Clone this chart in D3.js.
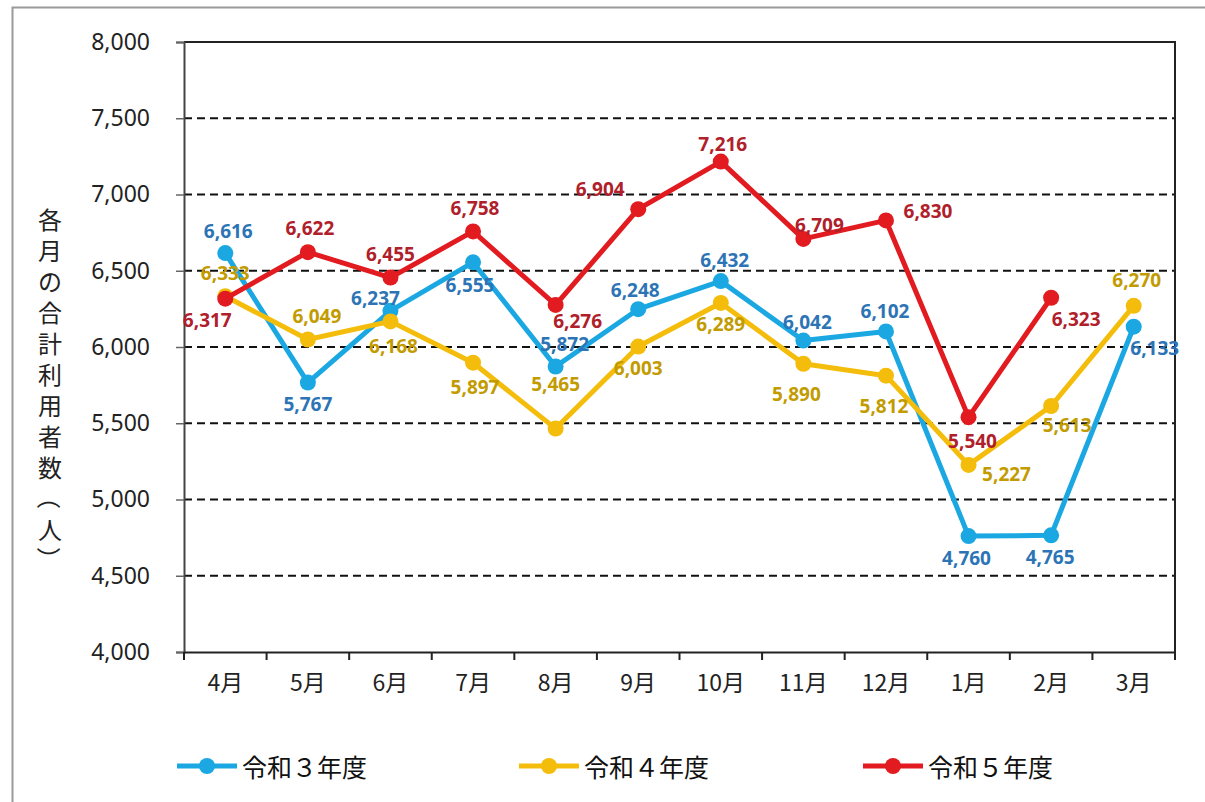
<!DOCTYPE html>
<html>
<head>
<meta charset="utf-8">
<script src="https://cdn.jsdelivr.net/npm/d3@7"></script>
<style>
  body { margin: 0; background: #fff; }
  svg { display: block; }
</style>
</head>
<body>
<div id="chart"></div>
<script>
// months (fiscal year order)
var months = ["4月","5月","6月","7月","8月","9月","10月","11月","12月","1月","2月","3月"];
var yTicks = [4000,4500,5000,5500,6000,6500,7000,7500,8000];

// 各月の合計利用者数
var r3 = [6616,5767,6237,6555,5872,6248,6432,6042,6102,4760,4765,6133];
var r4 = [6333,6049,6168,5897,5465,6003,6289,5890,5812,5227,5613,6270];
var r5 = [6317,6622,6455,6758,6276,6904,7216,6709,6830,5540,6323];

var seriesNames = ["令和３年度","令和４年度","令和５年度"];
var yTitle = "各月の合計利用者数（人）";

// label nudges [dx, dy] relative to each point
var r3Nudge = [[3,-22],[0,21],[-15,-13],[-3,23],[9,-23],[-3,-19],[4,-21],[4,-19],[-1,-20],[-2,22],[-1,22],[21,21]];
var r4Nudge = [[0,-23],[9,-24],[3,25],[2,24],[0,-45],[0,21],[0,21],[-7,30],[-2,30],[38,9],[16,19],[3,-26]];
var r5Nudge = [[-18,21],[2,-24],[0,-24],[2,-23],[22,16],[-38,-20],[2,-18],[16,-14],[42,-9],[4,24],[25,21]];

var W = 1205, H = 802;
var plot = { left: 184, right: 1175, top: 42, bottom: 652 };

var svg = d3.select("#chart").append("svg")
    .attr("width", W)
    .attr("height", H);

// outer frame
svg.append("rect")
    .attr("x", 12.5).attr("y", 7.5)
    .attr("width", W + 20).attr("height", H + 20)
    .attr("fill", "none")
    .attr("stroke", "#9a9a9a")
    .attr("stroke-width", 2);

var x = d3.scaleBand()
    .domain(months)
    .range([plot.left, plot.right]);

var y = d3.scaleLinear()
    .domain([4000, 8000])
    .range([plot.bottom, plot.top]);

// dashed grid lines
svg.append("g")
    .selectAll("line")
    .data(yTicks.filter(function(d) { return d > 4000 && d < 8000; }))
    .enter().append("line")
    .attr("x1", plot.left).attr("x2", plot.right)
    .attr("y1", function(d) { return y(d); })
    .attr("y2", function(d) { return y(d); })
    .attr("stroke", "#111")
    .attr("stroke-width", 2)
    .attr("stroke-dasharray", "8,5");

// plot border top + right
svg.append("path")
    .attr("d", "M" + plot.left + "," + y(8000) + "H" + plot.right + "V" + plot.bottom)
    .attr("fill", "none")
    .attr("stroke", "#222")
    .attr("stroke-width", 2);

// Y axis
var yAxis = d3.axisLeft(y)
    .tickValues(yTicks)
    .tickSize(8)
    .tickPadding(26)
    .tickFormat(d3.format(","));

svg.append("g")
    .attr("transform", "translate(" + plot.left + ",0)")
    .call(yAxis)
    .call(function(g) {
        g.select(".domain").attr("stroke", "#444").attr("stroke-width", 2);
        g.selectAll(".tick line").attr("stroke", "#666").attr("stroke-width", 1.5);
        g.selectAll("text")
            .attr("fill", "#222")
            .style("font-family", "'Noto Sans', 'Open Sans', sans-serif")
            .style("font-size", "23px");
    });

// X axis
var xAxis = d3.axisBottom(x)
    .tickSize(0)
    .tickPadding(23);

svg.append("g")
    .attr("transform", "translate(0," + plot.bottom + ")")
    .call(xAxis)
    .call(function(g) {
        g.select(".domain").attr("stroke", "#222").attr("stroke-width", 2);
        g.selectAll("text")
            .attr("fill", "#222")
            .style("font-family", "'Noto Sans CJK JP', sans-serif")
            .style("font-size", "23px");
    });

// category boundary ticks on x axis
svg.append("g")
    .selectAll("line")
    .data(months.concat(["end"]))
    .enter().append("line")
    .attr("x1", function(d, i) { return plot.left + i * x.step(); })
    .attr("x2", function(d, i) { return plot.left + i * x.step(); })
    .attr("y1", plot.bottom)
    .attr("y2", plot.bottom + 8)
    .attr("stroke", "#222")
    .attr("stroke-width", 2);

// Y title, stacked one character per line; brackets turned for vertical writing
svg.append("g")
    .selectAll("text")
    .data(Array.from(yTitle))
    .enter().append("text")
    .attr("text-anchor", "middle")
    .attr("dominant-baseline", "central")
    .attr("transform", function(d, i) {
        var t = "translate(50," + (218 + i * 31) + ")";
        return (d === "（" || d === "）") ? t + " rotate(90)" : t;
    })
    .attr("fill", "#222")
    .style("font-family", "'Noto Sans CJK JP', sans-serif")
    .style("font-size", "24px")
    .text(function(d) { return d; });

var series = [
    { name: seriesNames[0], values: r3, nudge: r3Nudge, line: "#1ba8e2", label: "#2c74b5" },
    { name: seriesNames[1], values: r4, nudge: r4Nudge, line: "#f4bd0b", label: "#c29b00" },
    { name: seriesNames[2], values: r5, nudge: r5Nudge, line: "#e11b1f", label: "#b0202a" }
];

var line = d3.line()
    .x(function(d, i) { return x(months[i]) + x.bandwidth() / 2; })
    .y(function(d) { return y(d); });

series.forEach(function(s) {
    var g = svg.append("g");
    g.append("path")
        .datum(s.values)
        .attr("d", line)
        .attr("fill", "none")
        .attr("stroke", s.line)
        .attr("stroke-width", 5)
        .attr("stroke-linejoin", "round");
    g.selectAll("circle")
        .data(s.values)
        .enter().append("circle")
        .attr("cx", function(d, i) { return x(months[i]) + x.bandwidth() / 2; })
        .attr("cy", function(d) { return y(d); })
        .attr("r", 8)
        .attr("fill", s.line);
});

// data labels on top
series.forEach(function(s) {
    svg.append("g")
        .selectAll("text")
        .data(s.values)
        .enter().append("text")
        .attr("x", function(d, i) { return x(months[i]) + x.bandwidth() / 2 + s.nudge[i][0]; })
        .attr("y", function(d, i) { return y(d) + s.nudge[i][1]; })
        .attr("text-anchor", "middle")
        .attr("dominant-baseline", "central")
        .attr("fill", s.label)
        .style("font-family", "'Open Sans', sans-serif")
        .style("font-weight", "bold")
        .style("font-size", "19px")
        .text(function(d) { return d3.format(",")(d); });
});

// legend
var legendX = [177, 519, 863];
var legend = svg.append("g")
    .selectAll("g")
    .data(series)
    .enter().append("g")
    .attr("transform", function(d, i) { return "translate(" + legendX[i] + ",766)"; });

legend.append("line")
    .attr("x1", 0).attr("x2", 60)
    .attr("stroke", function(d) { return d.line; })
    .attr("stroke-width", 5);

legend.append("circle")
    .attr("cx", 30)
    .attr("r", 8)
    .attr("fill", function(d) { return d.line; });

legend.append("text")
    .attr("x", 65)
    .attr("dominant-baseline", "central")
    .attr("fill", "#111")
    .style("font-family", "'Noto Sans CJK JP', sans-serif")
    .style("font-size", "25px")
    .text(function(d) { return d.name; });
</script>
</body>
</html>
